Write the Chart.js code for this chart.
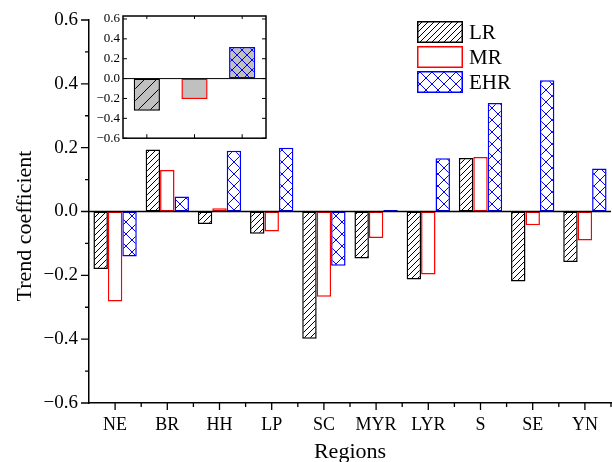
<!DOCTYPE html>
<html>
<head>
<meta charset="utf-8">
<script src="https://cdn.jsdelivr.net/npm/chart.js@4"></script>
<style>
html, body { margin: 0; padding: 0; background: #fff; }
#wrap { position: relative; width: 612px; height: 462px; }
#chart { position: absolute; left: 0; top: 0; }
#inset { position: absolute; left: 92px; top: 0; }
</style>
</head>
<body>
<div id="wrap">
<canvas id="chart" width="612" height="462"></canvas>
<canvas id="inset" width="180" height="149"></canvas>
</div>
<script>
// values
const regions = ['NE', 'BR', 'HH', 'LP', 'SC', 'MYR', 'LYR', 'S', 'SE', 'YN'];
const lrValues = [-0.180, 0.194, -0.039, -0.070, -0.399, -0.147, -0.213, 0.168, -0.219, -0.158];
const mrValues = [-0.282, 0.130, 0.010, -0.063, -0.267, -0.083, -0.197, 0.171, -0.043, -0.091];
const ehrValues = [-0.141, 0.047, 0.190, 0.200, -0.170, 0.005, 0.167, 0.340, 0.411, 0.135];
const yTicks = [-0.6, -0.4, -0.2, 0, 0.2, 0.4, 0.6];
const yMinorTicks = [-0.5, -0.3, -0.1, 0.1, 0.3, 0.5];

// inset: whole region
const insetLabels = ['LR', 'MR', 'EHR'];
const insetValues = [-0.324, -0.206, 0.317];

const serif = 'Liberation Serif';
const fmt = v => (v < 0 ? '\u2212' : '') + Math.abs(v).toFixed(1);

function hatch(ctx, bg, color, size, cross) {
    const c = document.createElement('canvas');
    c.width = size; c.height = size;
    const g = c.getContext('2d');
    g.fillStyle = bg;
    g.fillRect(0, 0, size, size);
    g.strokeStyle = color;
    g.lineWidth = 1;
    g.beginPath();
    g.moveTo(-1, size + 1); g.lineTo(size + 1, -1);
    g.moveTo(-1, 1); g.lineTo(1, -1);
    g.moveTo(size - 1, size + 1); g.lineTo(size + 1, size - 1);
    if (cross) {
        g.moveTo(-1, -1); g.lineTo(size + 1, size + 1);
        g.moveTo(size - 1, -1); g.lineTo(size + 1, 1);
        g.moveTo(-1, size - 1); g.lineTo(1, size + 1);
    }
    g.stroke();
    return ctx.createPattern(c, 'repeat');
}

const ctx = document.getElementById('chart').getContext('2d');

// ticks, zero line, titles, legend
const mainDecor = {
    id: 'mainDecor',
    afterDatasetsDraw(chart) {
        const { ctx, scales: { y }, chartArea: a } = chart;
        const z = y.getPixelForValue(0);
        ctx.save();
        ctx.strokeStyle = '#000';
        ctx.lineWidth = 1.5;
        ctx.beginPath();
        ctx.moveTo(a.left, z); ctx.lineTo(a.right, z);
        ctx.stroke();
        ctx.restore();
    },
    afterDraw(chart) {
        const { ctx, scales: { x, y }, chartArea: a } = chart;
        ctx.save();
        ctx.strokeStyle = '#000';
        ctx.lineWidth = 1.3;
        ctx.beginPath();
        yTicks.forEach(v => {
            const p = y.getPixelForValue(v);
            ctx.moveTo(a.left - 8, p); ctx.lineTo(a.left, p);
        });
        yMinorTicks.forEach(v => {
            const p = y.getPixelForValue(v);
            ctx.moveTo(a.left - 4, p); ctx.lineTo(a.left, p);
        });
        const half = (x.getPixelForValue(1) - x.getPixelForValue(0)) / 2;
        regions.forEach((r, i) => {
            const p = x.getPixelForValue(i);
            ctx.moveTo(p, a.bottom); ctx.lineTo(p, a.bottom + 7);
            ctx.moveTo(p + half, a.bottom); ctx.lineTo(p + half, a.bottom + 4);
        });
        ctx.stroke();

        ctx.fillStyle = '#000';
        ctx.font = '22px "' + serif + '"';
        ctx.textAlign = 'center';
        ctx.textBaseline = 'alphabetic';
        ctx.fillText('Regions', (a.left + a.right) / 2, 458);
        ctx.save();
        ctx.translate(31, 226);
        ctx.rotate(-Math.PI / 2);
        ctx.fillText('Trend coefficient', 0, 0);
        ctx.restore();

        // legend
        ctx.font = '21px "' + serif + '"';
        ctx.textAlign = 'left';
        ctx.textBaseline = 'middle';
        chart.data.datasets.forEach((ds, i) => {
            const bx = 417, by = 21 + i * 25, bw = 46, bh = 22;
            ctx.fillStyle = ds.backgroundColor;
            ctx.fillRect(bx, by, bw, bh);
            ctx.strokeStyle = ds.borderColor;
            ctx.lineWidth = 1.5;
            ctx.strokeRect(bx + 0.75, by + 0.75, bw - 1.5, bh - 1.5);
            ctx.fillStyle = '#000';
            ctx.fillText(ds.label, bx + 52, by + bh / 2 + 1);
        });
        ctx.restore();
    }
};

new Chart(ctx, {
    type: 'bar',
    data: {
        labels: regions,
        datasets: [{
            label: 'LR',
            data: lrValues,
            backgroundColor: hatch(ctx, '#fff', '#000', 6, false),
            borderColor: '#000',
            borderWidth: 1.5
        }, {
            label: 'MR',
            data: mrValues,
            backgroundColor: '#fff',
            borderColor: '#ff0000',
            borderWidth: 1.5
        }, {
            label: 'EHR',
            data: ehrValues,
            backgroundColor: hatch(ctx, '#fff', '#0000ff', 12, true),
            borderColor: '#0000ff',
            borderWidth: 1.5
        }]
    },
    options: {
        responsive: false,
        animation: false,
        layout: { padding: { left: 0, top: 20, right: 1, bottom: 0 } },
        datasets: { bar: { categoryPercentage: 0.83, barPercentage: 1, borderSkipped: false } },
        plugins: { legend: { display: false }, tooltip: { enabled: false } },
        scales: {
            x: {
                grid: { display: false, drawTicks: true, tickLength: 7 },
                border: { color: '#000', width: 1.5 },
                ticks: { color: '#000', font: { family: serif, size: 18 }, padding: 4, maxRotation: 0, autoSkip: false },
                afterFit: s => { s.height = 59; }
            },
            y: {
                min: -0.6,
                max: 0.6,
                afterBuildTicks: s => { s.ticks = yTicks.map(v => ({ value: v })); },
                grid: { display: false, drawTicks: true, tickLength: 8 },
                border: { color: '#000', width: 1.5 },
                ticks: { color: '#000', font: { family: serif, size: 19 }, padding: 3, callback: v => fmt(v) },
                afterFit: s => { s.width = 89; }
            }
        }
    },
    plugins: [mainDecor]
});

// inset chart
const ictx = document.getElementById('inset').getContext('2d');

const insetDecor = {
    id: 'insetDecor',
    afterDatasetsDraw(chart) {
        const { ctx, scales: { x, y }, chartArea: a } = chart;
        const z = y.getPixelForValue(0);
        ctx.save();
        ctx.strokeStyle = '#000';
        ctx.lineWidth = 1;
        ctx.beginPath();
        ctx.moveTo(a.left, z); ctx.lineTo(a.right, z);
        yTicks.forEach(v => {
            const p = y.getPixelForValue(v);
            ctx.moveTo(a.left, p); ctx.lineTo(a.left + 4, p);
            ctx.moveTo(a.right, p); ctx.lineTo(a.right - 4, p);
        });
        insetLabels.forEach((l, i) => {
            const p = x.getPixelForValue(i);
            ctx.moveTo(p, a.bottom); ctx.lineTo(p, a.bottom - 4);
            ctx.moveTo(p, a.top); ctx.lineTo(p, a.top + 3);
        });
        ctx.stroke();
        ctx.lineWidth = 1.5;
        ctx.strokeRect(a.left, a.top, a.right - a.left, a.bottom - a.top);
        ctx.restore();
    }
};

new Chart(ictx, {
    type: 'bar',
    data: {
        labels: insetLabels,
        datasets: [{
            data: insetValues,
            backgroundColor: [
                hatch(ictx, '#c0c0c0', '#000', 12, false),
                '#c0c0c0',
                hatch(ictx, '#c0c0c0', '#0000ff', 10, true)
            ],
            borderColor: ['#000', '#ff0000', '#0000ff'],
            borderWidth: 1.5,
            borderSkipped: false,
            categoryPercentage: 1,
            barPercentage: 0.55
        }]
    },
    options: {
        responsive: false,
        animation: false,
        layout: { padding: { left: 0, top: 16, right: 6, bottom: 0 } },
        plugins: { legend: { display: false }, tooltip: { enabled: false } },
        scales: {
            x: { display: false },
            y: {
                min: -0.6,
                max: 0.63,
                afterBuildTicks: s => { s.ticks = yTicks.map(v => ({ value: v })); },
                grid: { display: false, drawTicks: false },
                border: { display: false },
                ticks: { color: '#000', font: { family: serif, size: 13 }, padding: 3, callback: v => fmt(v) },
                afterFit: s => { s.width = 31; }
            }
        }
    },
    plugins: [insetDecor]
});
</script>
</body>
</html>
